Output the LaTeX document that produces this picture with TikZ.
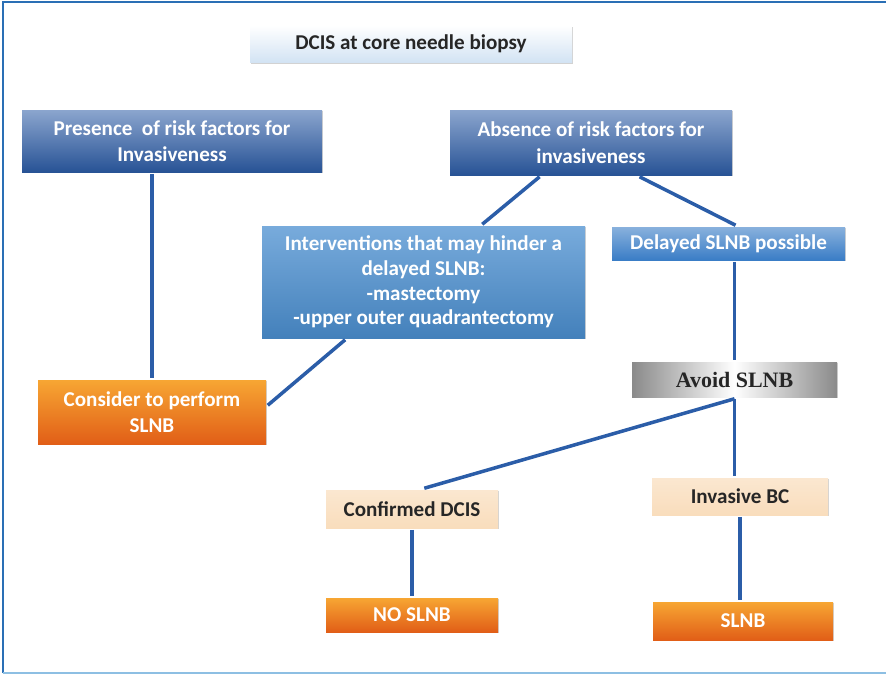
\documentclass[tikz,border=0pt]{standalone}
\usepackage{fontspec}
\setsansfont{Carlito}
\newfontfamily\avoidfont{Liberation Serif}
\usetikzlibrary{calc, shadows}
\definecolor{cnavy}{HTML}{2C5CA6}
\definecolor{cmid}{HTML}{4B8FD0}
\definecolor{csky}{HTML}{3A7DC6}
\definecolor{corange}{HTML}{E15E17}
\definecolor{camber}{HTML}{F7A633}
\definecolor{cpeach}{HTML}{F9DDBC}
\definecolor{cgrey}{HTML}{8A8A8A}
\definecolor{cline}{HTML}{2B5DA8}
\definecolor{cframe}{HTML}{2A6FB5}
\definecolor{cframelt}{HTML}{8DBFE3}
\tikzset{
  every picture/.style={font=\sffamily\bfseries\fontsize{12}{15}\selectfont, line width=2pt},
  size/.style 2 args={minimum width=#1cm, minimum height=#2cm, inner sep=1pt, align=center},
  boxshadow/.style={drop shadow={shadow xshift=0.6pt, shadow yshift=-0.8pt, fill=black!35, opacity=0.5}},
  navybox/.style={boxshadow, top color=cnavy!55!white, middle color=cnavy, bottom color=cnavy!90!black, text=white},
  midbox/.style={boxshadow, top color=cmid!75!white, middle color=cmid, bottom color=cmid!90!black, text=white},
  skybox/.style={boxshadow, top color=csky!60!white, middle color=csky, bottom color=csky, text=white},
  orangebox/.style={boxshadow, top color=camber, middle color=corange!80!camber, bottom color=corange, text=white},
  peachbox/.style={boxshadow, top color=cpeach!70!white, bottom color=cpeach, text=black!85},
  greybox/.style={boxshadow, left color=cgrey, right color=cgrey, middle color=white, text=black!85},
  titlebox/.style={boxshadow, top color=white, bottom color=cmid!25!white, text=black!85},
  link/.style={draw=cline, line width=2pt},
}

\begin{document}
\begin{tikzpicture}
  \useasboundingbox (0,0) rectangle (17.72,-13.5);
  % frame
  \draw[cframe, line width=1.5pt] (0.06,-13.46) -- (0.06,-0.04) -- (17.72,-0.04);
  \draw[cframelt, line width=1.2pt] (0.06,-13.46) -- (17.72,-13.46);

  % boxes
  \node[titlebox, size={6.44}{0.74}] (title) at (8.22,-0.88) {DCIS at core needle biopsy};
  \node[navybox, size={6.0}{1.24}] (presence) at (3.44,-2.82) {Presence\ \ of risk factors for\\ Invasiveness};
  \node[navybox, size={5.64}{1.3}] (absence) at (11.82,-2.85) {Absence of risk factors for\\ invasiveness};
  \node[midbox, size={6.46}{2.24}, font=\sffamily\bfseries\fontsize{12}{14}\selectfont] (interv) at (8.47,-5.64)
    {Interventions that may hinder a\\ delayed SLNB:\\ -mastectomy\\ -upper outer quadrantectomy};
  \node[skybox, size={4.66}{0.66}] (delayed) at (14.57,-4.87) {Delayed SLNB possible};
  \node[orangebox, size={4.56}{1.28}] (consider) at (3.04,-8.24) {Consider to perform\\ SLNB};
  \node[greybox, size={4.1}{0.7}, font=\avoidfont\bfseries\fontsize{12.5}{15}\selectfont] (avoid) at (14.69,-7.59) {Avoid SLNB};
  \node[peachbox, size={3.44}{0.76}] (confirmed) at (8.24,-10.18) {Confirmed DCIS};
  \node[peachbox, size={3.52}{0.74}] (invasive) at (14.8,-9.93) {Invasive BC};
  \node[orangebox, size={3.44}{0.68}] (noslnb) at (8.24,-12.3) {NO SLNB};
  \node[orangebox, size={3.6}{0.76}] (slnb) at (14.86,-12.42) {SLNB};

  % connectors
  \draw[link] (consider.north |- presence.south) -- (consider.north);
  \draw[link] ($(absence.south west)!0.32!(absence.south east)$) -- ($(interv.north west)!0.68!(interv.north east)$);
  \draw[link] ($(absence.south west)!0.67!(absence.south east)$) -- ($(delayed.north west)!0.53!(delayed.north east)$);
  \draw[link] ($(interv.south west)!0.26!(interv.south east)$) -- ($(consider.north east)!0.4!(consider.south east)$);
  \draw[link] (avoid.north |- delayed.south) -- (avoid.north);
  \draw[link] (avoid.south) -- (avoid.south |- invasive.north);
  \draw[link] (avoid.south) -- ($(confirmed.north west)!0.57!(confirmed.north east)$);
  \draw[link] (confirmed.south) -- (noslnb.north);
  \draw[link] (invasive.south) -- (invasive.south |- slnb.north);
\end{tikzpicture}
\end{document}
